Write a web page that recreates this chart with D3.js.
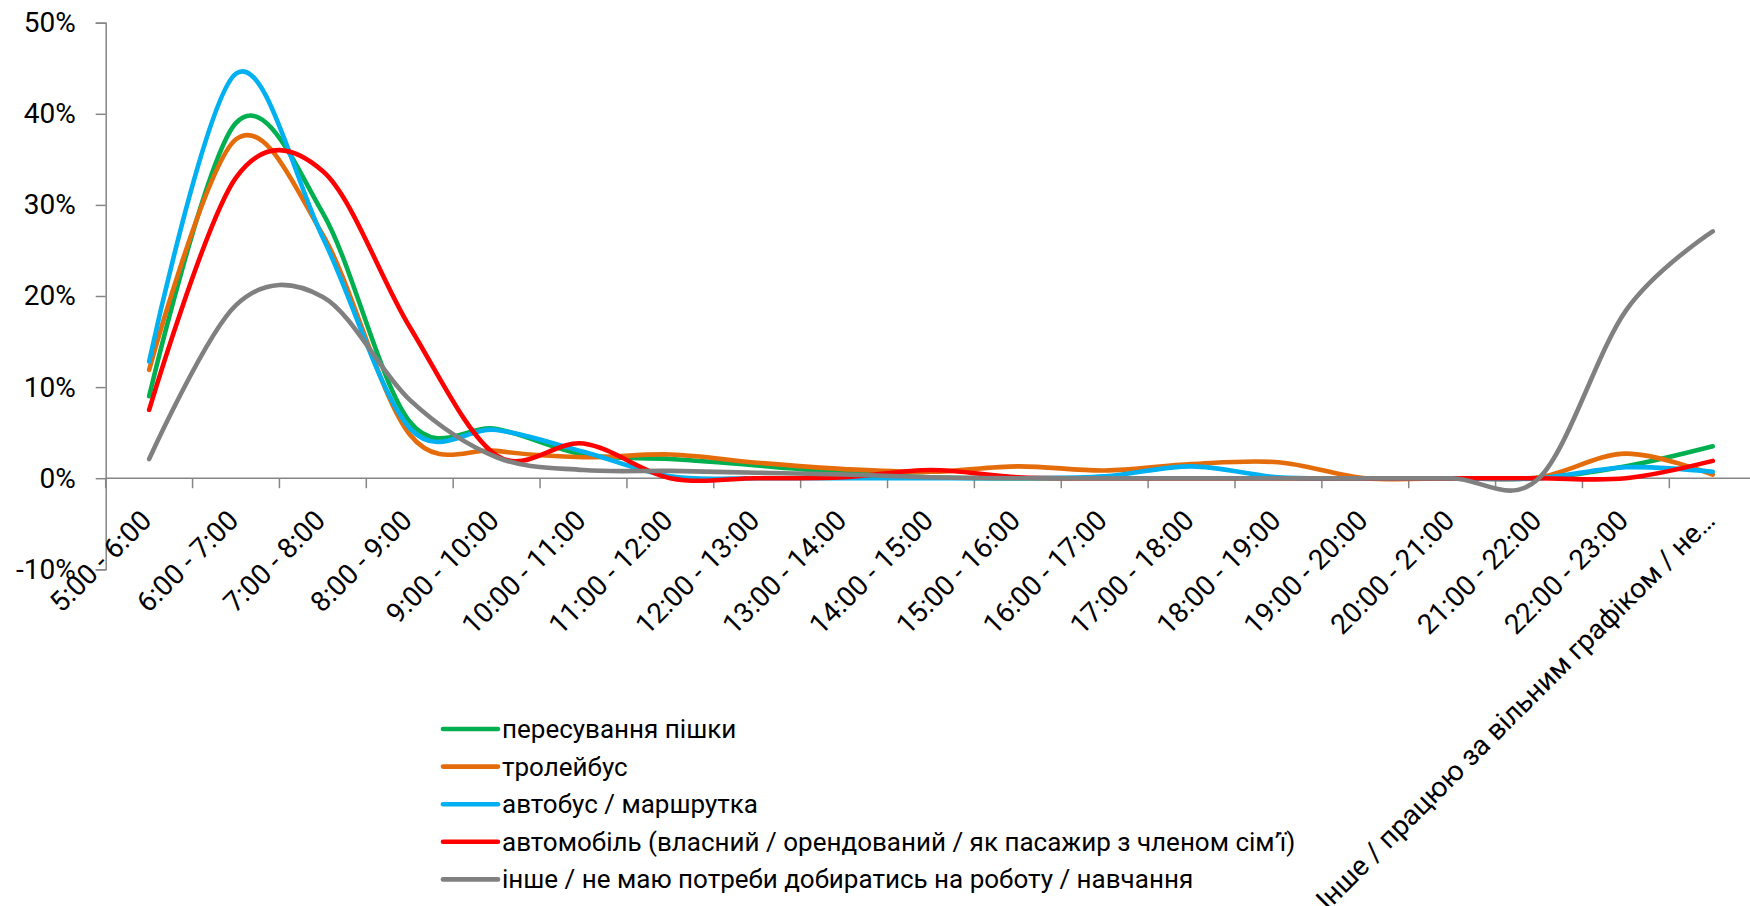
<!DOCTYPE html>
<html>
<head>
<meta charset="utf-8">
<script src="https://cdn.jsdelivr.net/npm/d3@7"></script>
<style>
  html, body { margin: 0; padding: 0; background: #fff; }
  svg { display: block; }
  text { font-family: Roboto, "Noto Sans", sans-serif; fill: #000; }
</style>
</head>
<body>
<svg id="chart" width="1750" height="906"></svg>
<script>
// ---- data ----
const categories = ["5:00 - 6:00", "6:00 - 7:00", "7:00 - 8:00", "8:00 - 9:00", "9:00 - 10:00",
  "10:00 - 11:00", "11:00 - 12:00", "12:00 - 13:00", "13:00 - 14:00", "14:00 - 15:00",
  "15:00 - 16:00", "16:00 - 17:00", "17:00 - 18:00", "18:00 - 19:00", "19:00 - 20:00",
  "20:00 - 21:00", "21:00 - 22:00", "22:00 - 23:00",
  "Інше / працюю за вільним графіком / не…"];

const seriesNames = ["пересування пішки", "тролейбус", "автобус / маршрутка",
  "автомобіль (власний / орендований / як пасажир з членом сім’ї)",
  "інше / не маю потреби добиратись на роботу / навчання"];

const walking    = [9.0, 39.0, 29.1, 6.2, 5.4, 2.6, 2.1, 1.4, 0.6, 0.1, 0, 0, 0, 0, 0, 0, 0, 1.3, 3.5];
const trolleybus = [11.9, 37.2, 26.7, 4.8, 3.0, 2.3, 2.6, 1.7, 1.0, 0.7, 1.3, 0.85, 1.55, 1.75, 0, 0, 0.1, 2.7, 0.4];
const bus        = [12.8, 44.4, 26.4, 5.5, 5.3, 2.9, 0.2, 0, 0, 0, 0, 0.2, 1.3, 0.1, 0, 0, 0, 1.2, 0.7];
const car        = [7.5, 33.0, 33.7, 16.6, 2.5, 3.8, 0, 0, 0.1, 0.9, 0.1, 0, 0, 0, 0, 0, 0, 0, 1.9];
const other      = [2.1, 19.0, 19.9, 8.6, 2.3, 0.9, 0.8, 0.6, 0.4, 0.1, 0, 0, 0, 0, 0, 0, 0, 18.4, 27.1];

const yTicks = [-10, 0, 10, 20, 30, 40, 50];
const colors = ["#00B050", "#E46C0A", "#00B0F0", "#FF0000", "#808080"];

// ---- layout ----
const svg = d3.select("#chart");
const plotLeft = 105.7, plotRight = 1756.2, plotTop = 22.7, plotBottom = 569.3;
const axisColor = "#868686";
const fontSize = 28;

const x = d3.scaleBand().domain(categories).range([plotLeft, plotRight]).padding(0);
const y = d3.scaleLinear().domain([-10, 50]).range([plotBottom, plotTop]);
const cx = c => x(c) + x.bandwidth() / 2;

// Y axis
const yAxis = d3.axisLeft(y).tickValues(yTicks).tickFormat(d => d + "%").tickSize(10).tickPadding(20);
const gy = svg.append("g").attr("transform", `translate(${plotLeft},0)`).call(yAxis);
gy.select(".domain").attr("stroke", axisColor).attr("stroke-width", 1.5);
gy.selectAll(".tick line").attr("stroke", axisColor).attr("stroke-width", 1.5);
gy.selectAll(".tick text").attr("font-size", fontSize).attr("font-family", "Roboto, 'Noto Sans', sans-serif").attr("fill", "#000");

// X axis line at 0
svg.append("line")
  .attr("x1", plotLeft).attr("x2", plotRight)
  .attr("y1", y(0)).attr("y2", y(0))
  .attr("stroke", axisColor).attr("stroke-width", 1.5);

// X ticks at category boundaries
const boundaries = categories.map(c => x(c)).concat([x(categories[categories.length - 1]) + x.bandwidth()]);
svg.append("g").selectAll("line").data(boundaries).join("line")
  .attr("x1", d => d).attr("x2", d => d)
  .attr("y1", y(0)).attr("y2", y(0) + 10)
  .attr("stroke", axisColor).attr("stroke-width", 1.5);

// X labels rotated
svg.append("g").selectAll("text").data(categories).join("text")
  .attr("transform", c => `translate(${cx(c) + 4},${y(0) + 44}) rotate(-45)`)
  .attr("text-anchor", "end")
  .attr("font-size", fontSize)
  .text(c => c);

// Lines
const allSeries = [walking, trolleybus, bus, car, other];
const line = d3.line()
  .x((d, i) => cx(categories[i]))
  .y(d => y(d))
  .curve(d3.curveCardinal.tension(0));

svg.append("g").selectAll("path").data(allSeries).join("path")
  .attr("d", d => line(d))
  .attr("fill", "none")
  .attr("stroke", (d, i) => colors[i])
  .attr("stroke-width", 4.6)
  .attr("stroke-linecap", "round")
  .attr("stroke-linejoin", "round");

// Legend
const legendX = 443, legendY0 = 729, legendStep = 37.6;
const lg = svg.append("g").selectAll("g").data(seriesNames).join("g")
  .attr("transform", (d, i) => `translate(${legendX},${legendY0 + i * legendStep})`);
lg.append("line")
  .attr("x1", 0).attr("x2", 55).attr("y1", 0).attr("y2", 0)
  .attr("stroke", (d, i) => colors[i]).attr("stroke-width", 4.6).attr("stroke-linecap", "round");
lg.append("text")
  .attr("x", 59).attr("y", 9)
  .attr("font-size", 26)
  .text(d => d);
</script>
</body>
</html>
